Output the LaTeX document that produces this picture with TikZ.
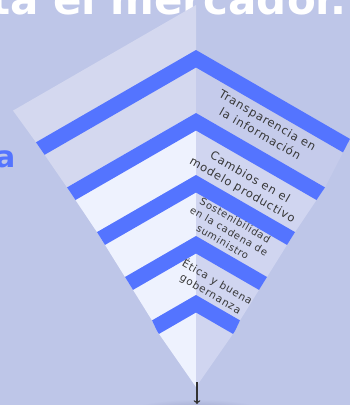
\documentclass[tikz,border=0pt]{standalone}
\usepackage{fontspec}
\setmainfont{DejaVu Sans}
\newfontfamily\lblfont{DejaVu Sans}[LetterSpace=7]

\definecolor{bgcol}{HTML}{BEC6E8}
\definecolor{bandcol}{HTML}{5474FF}
\definecolor{ghostcol}{HTML}{D4D8EF}
\definecolor{ghostdark}{HTML}{C5CBEB}
\definecolor{palecol}{HTML}{EEF2FE}
\definecolor{shadecol}{HTML}{D0D5F0}
\definecolor{textcol}{HTML}{383838}
\definecolor{shadowcol}{HTML}{9098BF}

\begin{document}
\begin{tikzpicture}[x=1pt,y=-1pt,
    lbl/.style={text=textcol,align=center,rotate=-30,inner sep=0pt}]
        %background
        \useasboundingbox (0,0) rectangle (350,405);
        \clip (0,0) rectangle (350,405);
        \fill[bgcol] (0,0) rectangle (350,405);
        \shade[inner color=shadowcol,outer color=bgcol] (197,416) ellipse (78 and 17);

        %title and side word
        \node[anchor=base west,text=white,font=\bfseries\fontsize{42}{42}\selectfont,inner sep=0pt] (title) at (-10,14) {ta el mercador.};
        \node[anchor=base east,text=bandcol,font=\bfseries\fontsize{30}{30}\selectfont,inner sep=0pt] (side) at (15.5,167) {a};

        %layer 1 (ghost)
        \fill[ghostcol] (13,110.6) -- (196,5) -- (196,50) -- (36,142.3) -- cycle;

        %layer 2
        \fill[ghostcol] (36,142.3) -- (196,50) -- (196,113) -- (67,187.4) -- cycle;
        \fill[ghostdark] (196,50) -- (350,138.9) -- (325,187.4) -- (196,113) -- cycle;
        \fill[bandcol] (36,142.3) -- (196,50) -- (350,138.9) -- (343,152.4) -- (196,67.5) -- (44.6,154.8) -- cycle;

        %layer 3
        \fill[palecol] (67,187.4) -- (196,113) -- (196,175) -- (97,232.1) -- cycle;
        \fill[shadecol] (196,113) -- (325,187.4) -- (295,232.1) -- (196,175) -- cycle;
        \fill[bandcol] (67,187.4) -- (196,113) -- (325,187.4) -- (316.5,200) -- (196,130.5) -- (75.5,200) -- cycle;

        %layer 4
        \fill[palecol] (97,232.1) -- (196,175) -- (196,236) -- (125,277) -- cycle;
        \fill[shadecol] (196,175) -- (295,232.1) -- (267,277) -- (196,236) -- cycle;
        \fill[bandcol] (97,232.1) -- (196,175) -- (295,232.1) -- (287,244.9) -- (196,192.5) -- (105,244.9) -- cycle;

        %layer 5
        \fill[palecol] (125,277) -- (196,236) -- (196,295) -- (152,320.4) -- cycle;
        \fill[shadecol] (196,236) -- (267,277) -- (240,320.4) -- (196,295) -- cycle;
        \fill[bandcol] (125,277) -- (196,236) -- (267,277) -- (259,289.9) -- (196,253.5) -- (133,289.9) -- cycle;

        %layer 6 (tip)
        \fill[palecol] (152,320.4) -- (196,295) -- (196,387) -- (157,331) -- cycle;
        \fill[shadecol] (196,295) -- (240,320.4) -- (235,331) -- (196,387) -- cycle;
        \fill[bandcol] (152,320.4) -- (196,295) -- (240,320.4) -- (235,331) -- (233,333.9) -- (196,312.5) -- (159,333.9) -- (157,331) -- cycle;

        %labels
        \node[lbl,font=\lblfont\fontsize{11.5}{15}\selectfont] (info) at (264,127) {Transparencia en\\la información};
        \node[lbl,font=\lblfont\fontsize{11.5}{15}\selectfont] (modelo) at (246,184) {Cambios en el\\modelo productivo};
        \node[lbl,font=\lblfont\fontsize{10}{12.5}\selectfont] (cadena) at (229,231) {Sostenibilidad\\en la cadena de\\suministro};
        \node[lbl,font=\lblfont\fontsize{10.5}{13.5}\selectfont] (etica) at (214,288) {Ética y buena\\gobernanza};

        %arrow
        \coordinate (tip) at (197,382);
        \coordinate (base) at (197,404);
        \draw[->,textcol!90!black,line width=1.4pt] (tip) -- (base);
    \end{tikzpicture}
\end{document}
